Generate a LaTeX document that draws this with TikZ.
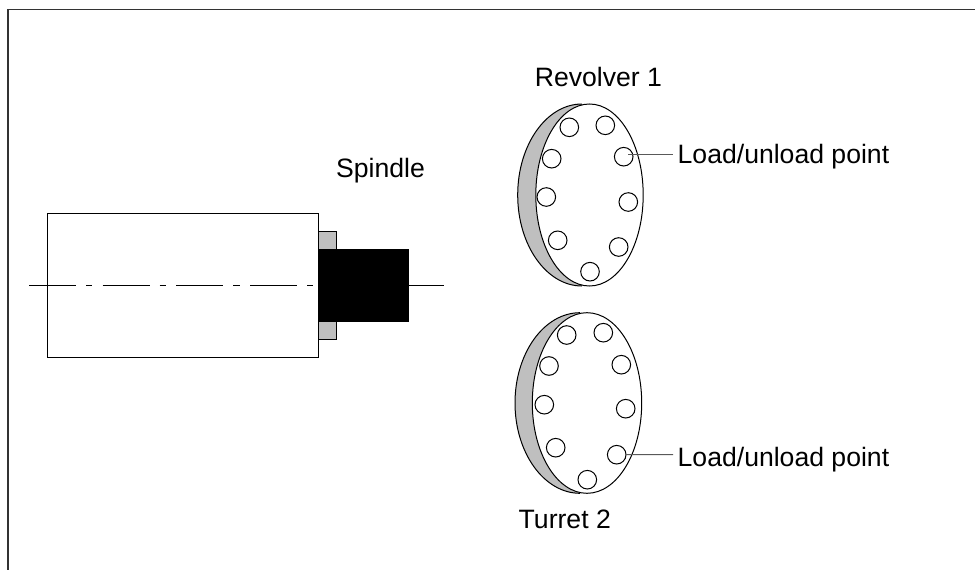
\documentclass[tikz,border=0pt]{standalone}
\usepackage{fontspec}
\setmainfont{Liberation Sans}
\tikzset{
  x=1pt,y=-1pt,
  outline/.style={draw=black,line width=1pt},
  hole/.style={circle,draw=black,line width=1pt,fill=white,minimum size=18.6pt,inner sep=0pt},
  lbl/.style={font=\fontsize{26.6}{30}\selectfont,text=black,inner sep=0pt,anchor=base west},
  leader/.style={draw=black!65,line width=1pt},
  shade/.style={fill=black!25},
}
\begin{document}
\begin{tikzpicture}
\useasboundingbox (0,0) rectangle (975,570);
% frame
\draw[line width=1.3pt,black!80] (8,570) -- (8,9.5) -- (975,9.5);
% spindle body
\draw[outline,fill=white] (47,213) rectangle (318.5,357);
\draw[outline,shade] (318.5,231.5) rectangle (336.5,339.5);
\coordinate (axisL) at (29,285);
\coordinate (axisM) at (313,285);
\coordinate (axisR) at (444,285);
\draw[black,line width=1pt,dash pattern=on 47pt off 10pt on 6.4pt off 10.3pt] (axisL) -- (axisM);
\draw[black,line width=1pt] (409,285) -- (axisR);
\fill[black] (318.5,249) rectangle (409,322);
\node[lbl] (spindle) at (336,177.3) {Spindle};
% revolver
\draw[outline,shade] (582,104) arc[start angle=270,end angle=90,x radius=64.3,y radius=91];
\draw[outline,fill=white] (589.5,195) ellipse[x radius=53.7,y radius=91];
\foreach \n/\p in {a/{569.3,127.3},b/{605.3,125.3},c/{623.7,156.7},d/{628.3,202},e/{618.7,247},f/{590,271.7},g/{557.7,240.3},h/{546.3,197},i/{551.7,158.7}}
  \node[hole] (r\n) at (\p) {};
\node[lbl] (rev) at (534.7,86.7) {Revolver 1};
\node[lbl] (l1) at (677.5,163.5) {Load/unload point};
\coordinate (l1end) at (673,154.3);
\draw[leader] ([xshift=4.3pt,yshift=2.4pt]rc.center) -- (l1end);
% turret
\draw[outline,shade] (580,312.7) arc[start angle=270,end angle=90,x radius=65,y radius=90.3];
\draw[outline,fill=white] (587,403) ellipse[x radius=54.7,y radius=90.3];
\foreach \n/\p in {a/{566.7,335},b/{603.3,332.7},c/{621.3,364.7},d/{625.7,408.7},e/{616.7,454.7},f/{587.3,479.7},g/{555.7,447.7},h/{544.3,404.7},i/{549,366}}
  \node[hole] (t\n) at (\p) {};
\node[lbl] (tur) at (518.5,528.7) {Turret 2};
\node[lbl] (l2) at (677.5,466.7) {Load/unload point};
\coordinate (l2end) at (673,454.5);
\draw[leader] ([xshift=-1pt]te.east) -- (l2end);
\end{tikzpicture}
\end{document}
